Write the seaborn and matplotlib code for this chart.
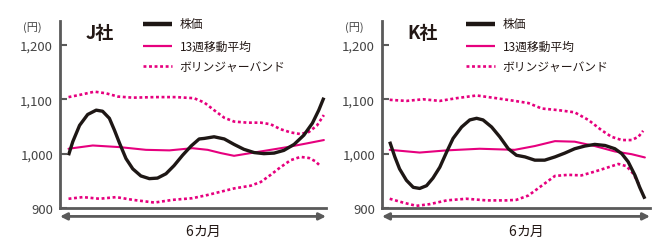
import numpy as np
import matplotlib.pyplot as plt
import pandas as pd
import seaborn as sns

# values, x is in months (0..6)
j_x = [0.0, 0.10, 0.26, 0.45, 0.65, 0.80, 0.96, 1.08, 1.20, 1.35, 1.51, 1.70, 1.90,
       2.09, 2.29, 2.48, 2.68, 2.88, 3.07, 3.19, 3.42, 3.66, 3.89, 4.12, 4.36, 4.59,
       4.83, 5.06, 5.30, 5.53, 5.73, 5.88, 6.0]
j_price = [997, 1022, 1052, 1072, 1080, 1078, 1065, 1043, 1019, 991, 972, 959, 954,
           955, 963, 978, 997, 1014, 1027, 1028, 1031, 1027, 1017, 1008, 1002, 1000,
           1001, 1006, 1017, 1034, 1056, 1080, 1103]
j_ma_x = [0.0, 0.57, 1.20, 1.82, 2.37, 2.91, 3.27, 3.58, 3.89, 4.20, 4.67, 5.14,
          5.61, 6.0]
j_ma = [1009, 1015, 1012, 1007, 1006, 1010, 1007, 1001, 996, 1000, 1006, 1012,
        1019, 1025]
j_up_x = [0.0, 0.26, 0.61, 0.88, 1.16, 1.51, 2.05, 2.52, 2.95, 3.19, 3.42, 3.66,
          3.89, 4.20, 4.52, 4.75, 4.98, 5.22, 5.45, 5.65, 5.84, 6.0]
j_up = [1104, 1108, 1114, 1111, 1105, 1103, 1104, 1104, 1102, 1094, 1080, 1066,
        1059, 1057, 1057, 1054, 1045, 1039, 1036, 1040, 1052, 1071]
j_lo_x = [0.0, 0.34, 0.73, 1.12, 1.51, 2.02, 2.45, 2.91, 3.27, 3.58, 3.89, 4.28,
          4.52, 4.75, 4.98, 5.22, 5.45, 5.65, 5.80, 5.92]
j_lo = [917, 920, 917, 920, 915, 910, 915, 918, 924, 930, 936, 941,
        948, 961, 975, 988, 994, 992, 986, 977]

k_x = [0.0, 0.12, 0.23, 0.39, 0.55, 0.70, 0.86, 1.01, 1.17, 1.33, 1.48, 1.68, 1.87,
       2.03, 2.18, 2.38, 2.57, 2.77, 2.96, 3.16, 3.39, 3.62, 3.86, 4.09, 4.32, 4.56,
       4.79, 5.03, 5.26, 5.42, 5.57, 5.73, 5.84, 5.96]
k_price = [1022, 994, 972, 951, 938, 936, 941, 955, 975, 1003, 1028, 1049, 1062,
           1065, 1062, 1049, 1031, 1009, 997, 994, 988, 988, 994, 1001, 1009, 1014,
           1017, 1015, 1009, 1000, 985, 960, 938, 917]
k_ma_x = [0.0, 0.70, 1.33, 2.10, 2.92, 3.39, 3.86, 4.32, 4.79, 5.26, 5.65, 5.96]
k_ma = [1007, 1002, 1006, 1009, 1007, 1014, 1023, 1022, 1014, 1004, 999, 993]
k_up_x = [0.0, 0.39, 0.78, 1.17, 1.56, 2.03, 2.49, 2.92, 3.24, 3.55, 3.94, 4.32,
          4.64, 4.95, 5.18, 5.42, 5.65, 5.81, 5.92]
k_up = [1099, 1097, 1100, 1097, 1102, 1107, 1102, 1097, 1093, 1083, 1080, 1076,
        1062, 1043, 1031, 1025, 1025, 1031, 1042]
k_lo_x = [0.0, 0.31, 0.62, 0.93, 1.33, 1.79, 2.26, 2.73, 2.96, 3.24, 3.55, 3.86,
          4.17, 4.48, 4.79, 5.11, 5.34, 5.53, 5.69, 5.84]
k_lo = [917, 910, 904, 907, 914, 917, 914, 914, 915, 923, 941, 959,
        961, 960, 967, 975, 981, 977, 963, 941]

yticks = [900, 1000, 1100, 1200]
ytick_labels = ['900', '1,000', '1,100', '1,200']
labels = ['株価', '13週移動平均', 'ボリンジャーバンド']

PINK = '#e6007e'
GRAY = '#5a5a5a'
BLACK = '#1e1715'
DOTS = (0, (1.1, 1.0))

sns.set_theme(style='white')
plt.rcParams['font.family'] = ['Noto Sans CJK JP', 'DejaVu Sans']

fig = plt.figure(figsize=(6.7, 2.51), dpi=100)


def draw_panel(rect, title, xs, price, ma_x, ma, up_x, up, lo_x, lo):
    ax = fig.add_axes(rect)
    sns.lineplot(x=up_x, y=up, ax=ax, color=PINK, lw=1.9, sort=False,
                 linestyle=DOTS)
    sns.lineplot(x=lo_x, y=lo, ax=ax, color=PINK, lw=1.9, sort=False,
                 linestyle=DOTS)
    sns.lineplot(x=ma_x, y=ma, ax=ax, color=PINK, lw=1.5, sort=False)
    sns.lineplot(x=xs, y=price, ax=ax, color=BLACK, lw=2.4, sort=False,
                 solid_joinstyle='round', solid_capstyle='butt')

    ax.set_ylim(900, 1244)
    ax.set_yticks(yticks, ytick_labels)
    ax.set_xticks([])
    for s in ['top', 'right']:
        ax.spines[s].set_visible(False)
    for s in ['left', 'bottom']:
        ax.spines[s].set_color(GRAY)
        ax.spines[s].set_linewidth(2.0)
    ax.tick_params(axis='y', direction='in', length=5, width=1.5, color=GRAY,
                   labelsize=9.5, labelcolor='#444444', pad=5, left=True)
    ax.text(-0.105, 0.968, '(円)', transform=ax.transAxes, fontsize=8,
            color='#444444', ha='center', va='center')
    ax.text(0.095, 0.94, title, transform=ax.transAxes, fontsize=13,
            fontweight='bold', color='#231815', ha='left', va='center')

    # legend drawn by hand
    ys = [0.984, 0.866, 0.759]
    styles = [dict(color=BLACK, lw=3.2),
              dict(color=PINK, lw=1.6),
              dict(color=PINK, lw=1.9, linestyle=DOTS)]
    for yy, st, lab in zip(ys, styles, labels):
        ax.plot([0.312, 0.421], [yy, yy], transform=ax.transAxes,
                solid_capstyle='butt', clip_on=False, **st)
        ax.text(0.45, yy, lab, transform=ax.transAxes, fontsize=8.5,
                color='#231815', ha='left', va='center')

    # 6カ月 arrow
    ax.annotate('', xy=(1.0, -0.045), xytext=(0.0, -0.045),
                xycoords='axes fraction',
                arrowprops=dict(arrowstyle='<|-|>', color=GRAY, lw=2.0,
                                mutation_scale=10, shrinkA=0, shrinkB=0),
                annotation_clip=False)
    ax.text(0.5, -0.125, '6', transform=ax.transAxes, fontsize=10,
            color='#231815', ha='right', va='center')
    ax.text(0.5, -0.125, 'カ月', transform=ax.transAxes, fontsize=10,
            color='#231815', ha='left', va='center')
    return ax


ax1 = draw_panel([60 / 670, 42 / 251, 266 / 670, 187 / 251], 'J社',
                 j_x, j_price, j_ma_x, j_ma, j_up_x, j_up, j_lo_x, j_lo)
ax1.set_xlim(-0.2, 6.05)
ax2 = draw_panel([382 / 670, 42 / 251, 268 / 670, 187 / 251], 'K社',
                 k_x, k_price, k_ma_x, k_ma, k_up_x, k_up, k_lo_x, k_lo)
ax2.set_xlim(-0.18, 6.08)

fig.savefig('out.png', dpi=100)
